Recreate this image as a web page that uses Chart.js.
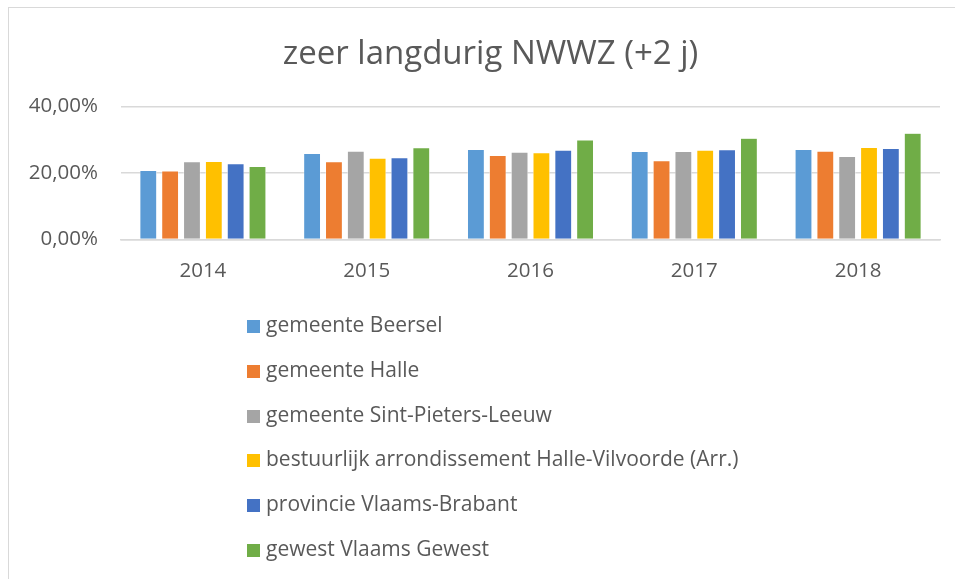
<!DOCTYPE html>
<html>
<head>
<meta charset="utf-8">
<script src="https://cdn.jsdelivr.net/npm/chart.js@4"></script>
<style>
  html, body { margin: 0; padding: 0; background: #fff; overflow: hidden; width: 955px; height: 579px; }
  #frame {
    position: absolute; left: 8px; top: 7px; width: 980px; height: 600px;
    border-top: 1px solid #d9d9d9; border-left: 1px solid #d9d9d9;
  }
  #chart { position: absolute; left: 0; top: 0; }
  #legend {
    position: absolute; left: 238px; top: 294px; margin: 0; padding: 0; list-style: none;
    font-family: "Open Sans", sans-serif; font-size: 21px; color: #595959;
  }
  #legend li { height: 44.8px; line-height: 44.8px; white-space: nowrap; }
  #legend .box { display: inline-block; width: 13px; height: 13px; margin-right: 6px; vertical-align: -1px; }
</style>
</head>
<body>
<div id="frame">
  <canvas id="chart" width="963" height="309"></canvas>
  <ul id="legend"></ul>
</div>
<script>
// zeer langdurig NWWZ (+2 j) — grouped bars per year

const years = ['2014', '2015', '2016', '2017', '2018'];
const names = [
  'gemeente Beersel',
  'gemeente Halle',
  'gemeente Sint-Pieters-Leeuw',
  'bestuurlijk arrondissement Halle-Vilvoorde (Arr.)',
  'provincie Vlaams-Brabant',
  'gewest Vlaams Gewest',
];
const colors = ['#5b9bd5', '#ed7d31', '#a5a5a5', '#ffc000', '#4472c4', '#70ad47'];

// percentages
const beersel = [20.8, 25.9, 27.1, 26.5, 27.1];
const halle = [20.6, 23.4, 25.3, 23.7, 26.6];
const sintPietersLeeuw = [23.4, 26.6, 26.3, 26.5, 25.0];
const halleVilvoorde = [23.5, 24.5, 26.1, 26.9, 27.7];
const vlaamsBrabant = [22.8, 24.6, 26.9, 27.0, 27.4];
const vlaamsGewest = [22.0, 27.6, 30.0, 30.5, 32.0];
const series = [beersel, halle, sintPietersLeeuw, halleVilvoorde, vlaamsBrabant, vlaamsGewest];

const yTicks = [0, 20, 40];

const grey = '#595959';
const gridCol = '#d9d9d9';
const font = 'Open Sans';

new Chart(document.getElementById('chart'), {
  type: 'bar',
  data: {
    labels: years,
    datasets: series.map((vals, i) => ({
      label: names[i],
      data: vals,
      backgroundColor: colors[i],
      borderColor: '#ffffff',
      borderWidth: 0.6,
      categoryPercentage: 0.8,
      barPercentage: 0.78,
    })),
  },
  options: {
    responsive: false,
    animation: false,
    devicePixelRatio: 1,
    layout: { padding: { left: 0, right: 0, top: 0, bottom: 23 } },
    plugins: {
      legend: { display: false },
      tooltip: { enabled: false },
      title: {
        display: true,
        text: 'zeer langdurig NWWZ (+2 j)',
        color: grey,
        font: { family: font, size: 33, weight: 'normal' },
        padding: { top: 27, bottom: 32 },
      },
    },
    scales: {
      x: {
        grid: { display: false },
        border: { display: true, color: gridCol, width: 1.5 },
        ticks: { color: grey, font: { family: font, size: 20.5 }, padding: 11 },
      },
      y: {
        min: 0,
        max: 40,
        afterFit: s => { s.width = 112; },
        afterBuildTicks: s => { s.ticks = yTicks.map(v => ({ value: v })); },
        grid: { color: gridCol, lineWidth: 1.5, drawTicks: false },
        border: { display: false },
        ticks: {
          color: grey,
          font: { family: font, size: 20.5 },
          padding: 23,
          callback: v => v.toFixed(2).replace('.', ',') + '%',
        },
      },
      // empty right-hand margin so the title stays centred on the full frame
      yRight: {
        position: 'right',
        afterFit: s => { s.width = 32; },
        grid: { display: false },
        border: { display: false },
        ticks: { display: false },
      },
    },
  },
});

const legend = document.getElementById('legend');
names.forEach((n, i) => {
  const li = document.createElement('li');
  const box = document.createElement('span');
  box.className = 'box';
  box.style.background = colors[i];
  li.appendChild(box);
  li.appendChild(document.createTextNode(n));
  legend.appendChild(li);
});
</script>
</body>
</html>
